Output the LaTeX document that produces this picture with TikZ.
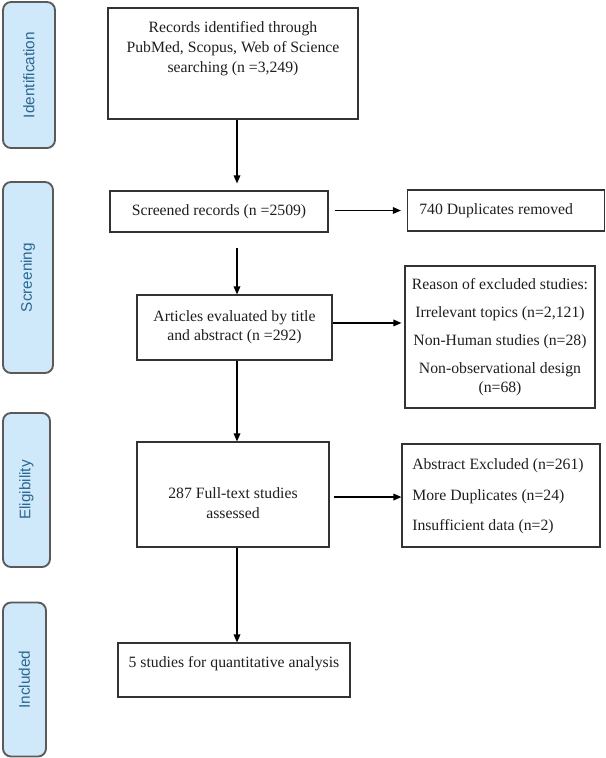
\documentclass[tikz,border=0pt]{standalone}
\usepackage{fontspec}
\setmainfont{Liberation Serif}
\newfontfamily\sidefont{Liberation Sans}
\usepackage{graphicx}
\usetikzlibrary{arrows.meta}
\definecolor{sidefill}{HTML}{CFE9FB}
\definecolor{sideline}{HTML}{5A5A5A}
\definecolor{sidetext}{HTML}{2A6890}
\definecolor{boxline}{HTML}{333333}
\definecolor{boxtext}{HTML}{1E1E1E}
\tikzset{
  sidebox/.style={draw=sideline, line width=1.4pt, fill=sidefill, rounded corners=6pt,
    inner sep=0pt, text=sidetext, font=\sidefont\fontsize{11.5}{13}\selectfont},
  flowbox/.style={draw=boxline, line width=0.9pt, inner sep=0pt, text=boxtext,
    align=center, font=\fontsize{11.8}{14.5}\selectfont},
  flowtext/.style={inner sep=0pt, text=boxtext, font=\fontsize{11.8}{14.5}\selectfont},
  arr/.style={draw=black, line width=0.9pt, -{Triangle[length=6pt,width=5pt]}}
}
\begin{document}
\begin{tikzpicture}[x=0.75pt, y=-0.75pt]
\useasboundingbox (0,0) rectangle (606,758);
% side phase boxes
\node[sidebox, minimum width=39pt, minimum height=109.5pt] (idside) at (29,75) {\rotatebox{90}{Identification}};
\node[sidebox, minimum width=37.5pt, minimum height=143.25pt] (scrside) at (28,277.5) {\rotatebox{90}{Screening}};
\node[sidebox, minimum width=35.25pt, minimum height=115.5pt] (eligside) at (26.5,490) {\rotatebox{90}{Eligibility}};
\node[sidebox, minimum width=32.25pt, minimum height=115.5pt] (inclside) at (24.5,679.5) {\rotatebox{90}{Included}};
% main boxes
\node[flowbox, minimum width=187.5pt, minimum height=83.25pt] (rec) at (233,63.5) {};
\node[flowtext, align=center, font=\fontsize{11.8}{15}\selectfont] (rectxt) at (233,49) {Records identified through\\PubMed, Scopus, Web of Science\\searching (n =3,249)};
\node[flowbox, minimum width=163.5pt, minimum height=30.75pt] (scr) at (219,211.5) {Screened records (n =2509)};
\node[flowbox, minimum width=147.75pt, minimum height=30.75pt] (dup) at (506,210.5) {};
\node[flowtext, anchor=west] (duptxt) at (419,210.5) {740 Duplicates removed};
\node[flowbox, minimum width=146.25pt, minimum height=48.75pt] (art) at (234.5,327.5) {Articles evaluated by title\\and abstract (n =292)};
\node[flowbox, minimum width=142.5pt, minimum height=106.5pt, font=\fontsize{11.8}{14.5}\selectfont] (rea) at (500,337) {Reason of excluded studies:\\[6.5pt]Irrelevant topics (n=2,121)\\[6.5pt]Non-Human studies (n=28)\\[6.5pt]Non-observational design\\(n=68)};
\node[flowbox, minimum width=144pt, minimum height=78.75pt] (ft) at (233,494.5) {};
\node[flowtext, align=center] (fttxt) at (233,503) {287 Full-text studies\\assessed};
\node[flowbox, minimum width=148.5pt, minimum height=77.25pt] (ex) at (501,495.5) {};
\node[flowtext, anchor=west, align=left] (extxt) at (412,496.5) {Abstract Excluded (n=261)\\[8.5pt]More Duplicates (n=24)\\[8.5pt]Insufficient data (n=2)};
\node[flowbox, minimum width=174pt, minimum height=40.5pt] (fin) at (234,670) {};
\node[flowtext] (fintxt) at (234,664) {5 studies for quantitative analysis};
% column of vertical arrows
\coordinate (cx) at (237,0);
\draw[arr, shorten >=5.25pt] (rec.south -| cx) -- (scr.north -| cx);
\draw[arr, shorten <=11.25pt] (scr.south -| cx) -- (art.north -| cx);
\draw[arr] (art.south -| cx) -- (ft.north -| cx);
\draw[arr] (ft.south -| cx) -- (fin.north -| cx);
% horizontal arrows
\draw[arr, shorten <=4.5pt, shorten >=4.5pt] ([yshift=0.75pt]scr.east) -- ([yshift=0.75pt]scr.east -| dup.west);
\draw[arr, shorten >=2.25pt] ([yshift=3.4pt]art.east) -- ([yshift=3.4pt]art.east -| rea.west);
\draw[arr, shorten <=3pt] ([yshift=-1.9pt]ft.east) -- ([yshift=-1.9pt]ft.east -| ex.west);
\end{tikzpicture}
\end{document}
